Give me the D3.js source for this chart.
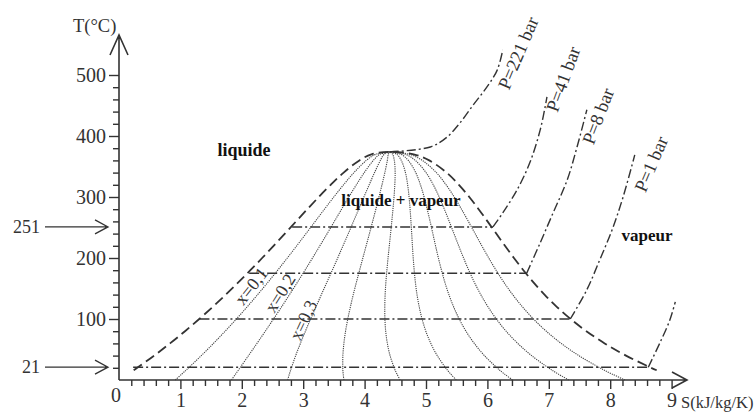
<!DOCTYPE html>
<html><head><meta charset="utf-8">
<script src="https://cdn.jsdelivr.net/npm/d3@7/dist/d3.min.js"></script>
<style>body{margin:0;background:#fff}svg{display:block}</style>
</head><body>
<svg id="c" width="756" height="415"></svg>
<script>
// ---------- data ----------
const domeT  = [0.01, 10, 16, 20, 40, 60, 80, 100, 120, 140, 160, 180, 200, 220, 240, 260, 280, 300, 320, 340, 360, 370, 374];
const domeSf = [0, 0.151, 0.239, 0.297, 0.572, 0.831, 1.075, 1.307, 1.528, 1.739, 1.943, 2.140, 2.331, 2.518, 2.702, 2.884, 3.067, 3.253, 3.448, 3.659, 3.915, 4.111, 4.41];
const domeSg = [9.156, 8.901, 8.757, 8.667, 8.257, 7.910, 7.612, 7.355, 7.130, 6.930, 6.750, 6.586, 6.432, 6.286, 6.144, 6.002, 5.857, 5.705, 5.536, 5.336, 5.053, 4.801, 4.41];
const qualities = [0.1, 0.2, 0.3, 0.4, 0.5, 0.6, 0.7, 0.8, 0.9];
const qualityLabels = ["x=0,1", "x=0,2", "x=0,3"];

const satT    = [21, 100, 175, 251];
const satSLiq = [0.23, 1.31, 2.12, 2.82];
const satSVap = [8.62, 7.35, 6.64, 6.09];

const isoNames = ["P=221 bar", "P=41 bar", "P=8 bar", "P=1 bar", ""];
const iso221S = [4.41, 5.07, 5.34, 5.55, 5.77, 5.99, 6.16, 6.25];
const iso221T = [374, 382, 398, 421, 451, 480, 508, 541];
const iso41S  = [6.09, 6.25, 6.48, 6.69, 6.86, 6.97];
const iso41T  = [251, 274, 311, 356, 410, 464];
const iso8S   = [6.64, 6.86, 7.07, 7.30, 7.46, 7.62];
const iso8T   = [175, 225, 274, 328, 382, 443];
const iso1S   = [7.35, 7.62, 7.83, 8.03, 8.21, 8.40];
const iso1T   = [100, 148, 197, 246, 300, 369];
const iso0S   = [8.62, 8.81, 8.97, 9.06];
const iso0T   = [21, 61, 98, 128];

const sTicks = [1, 2, 3, 4, 5, 6, 7, 8, 9];
const tTicks = [100, 200, 300, 400, 500];
const markT = [251, 21];
const regionNames = ["liquide", "liquide + vapeur", "vapeur"];

// ---------- drawing ----------
const ink = "#333";
const serif = "'Liberation Serif','Times New Roman',serif";
const svg = d3.select("#c");
svg.append("rect").attr("width", 756).attr("height", 415).attr("fill", "#fff");

const x = d3.scaleLinear().domain([0, 9]).range([119, 671.6]);
const y = d3.scaleLinear().domain([0, 500]).range([380, 75]);

const line = d3.line().x(d => x(d[0])).y(d => y(d[1])).curve(d3.curveCatmullRom.alpha(0.5));
const straight = d3.line().x(d => x(d[0])).y(d => y(d[1]));

// axes ticks
const minorS = d3.range(1, 46).map(i => i * 0.2).filter(v => Math.abs(v - Math.round(v)) > 1e-6);
const minorT = d3.range(1, 26).map(i => i * 20).filter(v => v % 100 !== 0);

function styleAxis(g) {
  g.select(".domain").remove();
  g.selectAll("line").attr("stroke", ink).attr("stroke-width", 1.4);
  g.selectAll("text").attr("font-family", serif).attr("font-size", 20).attr("fill", ink);
}
svg.append("g").attr("transform", `translate(0,${y(0)})`)
  .call(d3.axisBottom(x).tickValues(minorS).tickSize(6).tickFormat("")).call(styleAxis);
svg.append("g").attr("transform", `translate(0,${y(0)})`)
  .call(d3.axisBottom(x).tickValues(sTicks).tickSize(9).tickPadding(4).tickFormat(d3.format("d"))).call(styleAxis);
svg.append("g").attr("transform", `translate(${x(0)},0)`)
  .call(d3.axisLeft(y).tickValues(minorT).tickSize(6).tickFormat("")).call(styleAxis);
svg.append("g").attr("transform", `translate(${x(0)},0)`)
  .call(d3.axisLeft(y).tickValues(tTicks).tickSize(10).tickPadding(3).tickFormat(d3.format("d"))).call(styleAxis);

// axis lines with open arrow heads
const x0 = x(0), y0 = y(0);
const xEnd = 687, yEnd = 35;
svg.append("path").attr("d", `M${x0},${y0}H${xEnd}M${xEnd-15},${y0-8}L${xEnd},${y0}L${xEnd-15},${y0+8}`)
  .attr("fill", "none").attr("stroke", ink).attr("stroke-width", 1.6);
svg.append("path").attr("d", `M${x0},${y0}V${yEnd}M${x0-9},${yEnd+20}L${x0},${yEnd}L${x0+9},${yEnd+20}`)
  .attr("fill", "none").attr("stroke", ink).attr("stroke-width", 1.6);

svg.append("text").attr("x", 116).attr("y", 402).attr("text-anchor", "middle")
  .attr("font-family", serif).attr("font-size", 20).attr("fill", ink).text("0");
svg.append("text").attr("x", 73).attr("y", 32)
  .attr("font-family", serif).attr("font-size", 18.5).attr("fill", ink).text("T(°C)");
svg.append("text").attr("x", 681).attr("y", 408)
  .attr("font-family", serif).attr("font-size", 16.5).attr("fill", ink).text("S(kJ/kg/K)");

// side arrows 251 / 21
markT.forEach(t => {
  const yy = y(t);
  svg.append("path").attr("d", `M45,${yy}H108M95,${yy-7}L108,${yy}L95,${yy+7}`)
    .attr("fill", "none").attr("stroke", ink).attr("stroke-width", 1.3);
  svg.append("text").attr("x", 40).attr("y", yy).attr("dy", "0.35em").attr("text-anchor", "end")
    .attr("font-family", serif).attr("font-size", 18).attr("fill", ink).text(t);
});

// quality lines (dotted)
qualities.forEach(q => {
  const pts = domeT.map((t, i) => [domeSf[i] + q * (domeSg[i] - domeSf[i]), t]);
  svg.append("path").attr("d", line(pts)).attr("fill", "none")
    .attr("stroke", "#444").attr("stroke-width", 1.1).attr("stroke-dasharray", "1.2,1");
});

// saturation dome (dashed)
const domeIdx = domeT.map((t, i) => i).filter(i => domeT[i] >= 16);
const domePts = domeIdx.map(i => [domeSf[i], domeT[i]])
  .concat(domeIdx.slice(0, -1).reverse().map(i => [domeSg[i], domeT[i]]));
svg.append("path").attr("d", line(domePts)).attr("fill", "none")
  .attr("stroke", ink).attr("stroke-width", 1.8).attr("stroke-dasharray", "10,5");

// horizontal saturation isobars
satT.forEach((t, i) => {
  svg.append("path").attr("d", straight([[satSLiq[i], t], [satSVap[i], t]])).attr("fill", "none")
    .attr("stroke", ink).attr("stroke-width", 1.5).attr("stroke-dasharray", "10,3,2,3");
});

// superheated isobars
const isoS = [iso221S, iso41S, iso8S, iso1S, iso0S];
const isoT = [iso221T, iso41T, iso8T, iso1T, iso0T];
isoS.forEach((ss, k) => {
  const pts = ss.map((s, i) => [s, isoT[k][i]]);
  svg.append("path").attr("d", line(pts)).attr("fill", "none")
    .attr("stroke", ink).attr("stroke-width", 1.4).attr("stroke-dasharray", "9,3,2,3");
});

// isobar labels (rotated)
const isoLabelPos = [[518, 53, -67], [563, 79, -70], [598, 116, -69], [651, 164, -67]];
isoNames.forEach((n, k) => {
  if (!n) return;
  const p = isoLabelPos[k];
  svg.append("text").attr("transform", `translate(${p[0]},${p[1]}) rotate(${p[2]})`)
    .attr("text-anchor", "middle").attr("dy", "0.35em")
    .attr("font-family", serif).attr("font-size", 18.5).attr("fill", ink).text(n);
});

// quality labels
const qPos = [[251, 286, -52], [280, 293, -58], [303, 320, -65]];
qualityLabels.forEach((n, k) => {
  const p = qPos[k];
  svg.append("text").attr("transform", `translate(${p[0]},${p[1]}) rotate(${p[2]})`)
    .attr("text-anchor", "middle").attr("dy", "0.35em")
    .attr("font-family", serif).attr("font-size", 18).attr("fill", ink).text(n);
});

// region labels
const regPos = [[244, 150, 18], [401, 200, 17], [647, 235, 17]];
regionNames.forEach((n, k) => {
  svg.append("text").attr("x", regPos[k][0]).attr("y", regPos[k][1]).attr("dy", "0.35em")
    .attr("text-anchor", "middle").attr("font-family", serif).attr("font-weight", "bold")
    .attr("font-size", regPos[k][2]).attr("fill", "#111").text(n);
});
</script>
</body></html>
